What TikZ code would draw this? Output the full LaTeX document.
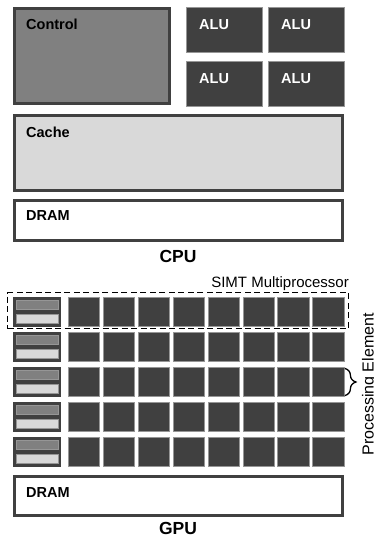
\documentclass[tikz,border=0pt]{standalone}
\usepackage{fontspec}
\setmainfont{Liberation Sans}
\usetikzlibrary{decorations.pathreplacing}
\definecolor{dk}{RGB}{64,64,64}
\definecolor{md}{RGB}{128,128,128}
\definecolor{lt}{RGB}{217,217,217}
\definecolor{edgegray}{RGB}{150,150,150}
\begin{document}
\begin{tikzpicture}[x=1pt,y=1pt,
  box/.style={draw=dk, line width=3pt, inner sep=0pt, outer sep=0pt, anchor=north west},
  alubox/.style={draw=edgegray, fill=dk, line width=1pt, inner sep=0pt, outer sep=0pt, anchor=north west, minimum width=76pt, minimum height=45pt},
  pebox/.style={draw=edgegray, fill=dk, line width=0.8pt, inner sep=0pt, outer sep=0pt, anchor=north west, minimum width=31.2pt, minimum height=29.2pt},
  smbox/.style={draw=dk, fill=dk, line width=3pt, inner sep=0pt, outer sep=0pt, anchor=north west, minimum width=45pt, minimum height=27pt},
  strip/.style={draw=edgegray, line width=0.8pt, inner sep=0pt, outer sep=0pt, anchor=north west, minimum width=42.2pt, minimum height=9pt},
  lbl/.style={font=\fontsize{14.5}{17}\selectfont\bfseries, inner sep=0pt, anchor=base west},
  alulbl/.style={lbl, text=white},
  title/.style={font=\fontsize{17.5}{20}\selectfont\bfseries, inner sep=0pt, anchor=base},
  note/.style={font=\fontsize{15}{18}\selectfont, inner sep=0pt}
]
\useasboundingbox (0,0) rectangle (374,-539);
\fill[white] (0,0) rectangle (374,-539);

% CPU
\node[box, fill=md, minimum width=155pt, minimum height=95pt] (control) at (14.5,-8.5) {};
\node[lbl] (controltxt) at (26,-29.3) {Control};
\node[alubox] (alu1) at (186.5,-7.5) {};
\node[alubox] (alu2) at (268.5,-7.5) {};
\node[alubox] (alu3) at (186.5,-61.5) {};
\node[alubox] (alu4) at (268.5,-61.5) {};
\node[alulbl] (alu1txt) at (199,-29) {ALU};
\node[alulbl] (alu2txt) at (281,-29) {ALU};
\node[alulbl] (alu3txt) at (199,-83) {ALU};
\node[alulbl] (alu4txt) at (281,-83) {ALU};
\node[box, fill=lt, minimum width=328pt, minimum height=75pt] (cache) at (14.5,-115.5) {};
\node[lbl] (cachetxt) at (26,-137) {Cache};
\node[box, fill=white, minimum width=328pt, minimum height=40pt] (cpudram) at (14.5,-200.5) {};
\node[lbl] (cpudramtxt) at (26,-220) {DRAM};
\node[title] (cpu) at (178,-262) {CPU};

% GPU
\node[note, anchor=base east] (simt) at (349,-287.7) {SIMT Multiprocessor};
\node[draw=black, line width=0.9pt, dash pattern=on 6pt off 3.5pt, inner sep=0pt, outer sep=0pt,
      anchor=north west, minimum width=341pt, minimum height=36pt] (smframe) at (7.5,-292.5) {};
\foreach \r in {0,...,4}{
  \pgfmathsetmacro\yy{297+35*\r}
  \node[smbox] (sm\r) at (14.5,-\yy-1.5) {};
  \node[strip, fill=md] (smc\r) at (16.4,-\yy-3.4) {};
  \node[strip, fill=lt] (smm\r) at (16.4,-\yy-17.4) {};
  \foreach \c in {0,...,7}{
    \pgfmathsetmacro\xx{68+34.9*\c}
    \node[pebox] (pe-\r-\c) at (\xx+0.4,-\yy-0.4) {};
  }
}
\coordinate (bt) at ([xshift=1pt,yshift=-1pt]pe-2-7.north east);
\coordinate (bb) at ([xshift=1pt,yshift=1pt]pe-2-7.south east);
\draw[line width=1.3pt, decorate, decoration={brace, amplitude=11pt}] (bt) -- (bb);
\node[font=\fontsize{16}{19}\selectfont, inner sep=0pt, rotate=90, anchor=base] (petxt) at (373.5,-384.5) {Processing Element};

\node[box, fill=white, minimum width=328pt, minimum height=39pt] (gpudram) at (14.5,-476.5) {};
\node[lbl] (gpudramtxt) at (26,-497) {DRAM};
\node[title] (gpu) at (178,-534) {GPU};
\end{tikzpicture}
\end{document}
